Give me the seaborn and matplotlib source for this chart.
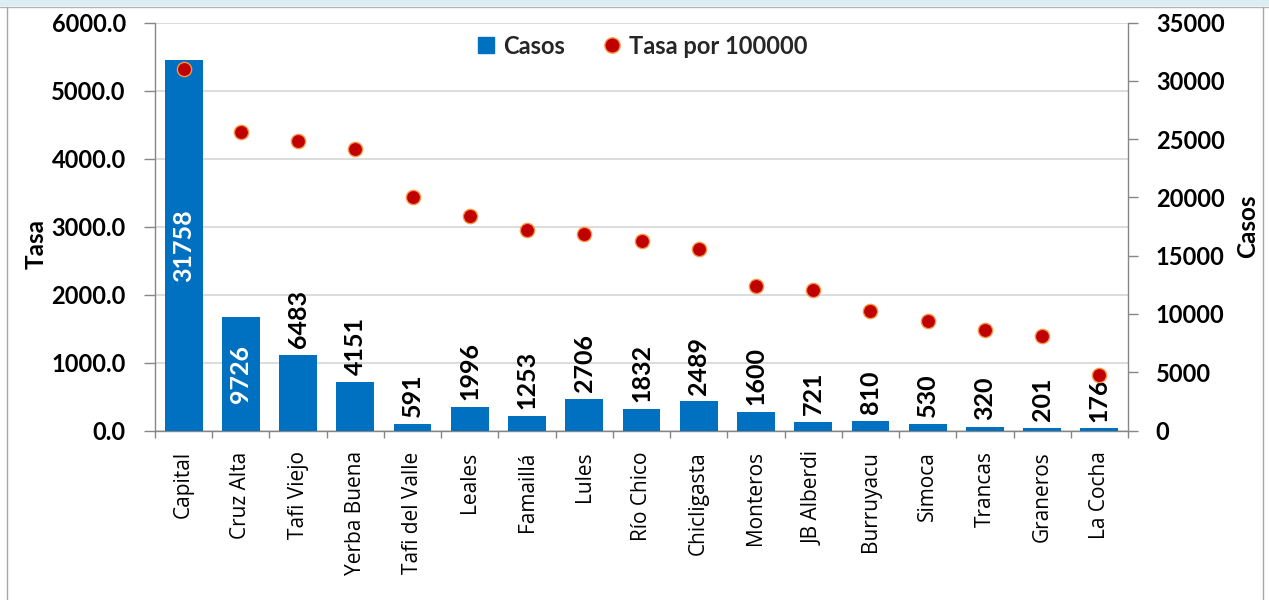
import numpy as np
import matplotlib
matplotlib.use("Agg")
import matplotlib.pyplot as plt
import seaborn as sns
from matplotlib.lines import Line2D
from matplotlib.patches import Rectangle

# datos por departamento
departamentos = ["Capital", "Cruz Alta", "Tafi Viejo", "Yerba Buena", "Tafi del Valle",
                 "Leales", "Famaillá", "Lules", "Río Chico", "Chicligasta", "Monteros",
                 "JB Alberdi", "Burruyacu", "Simoca", "Trancas", "Graneros", "La Cocha"]
casos = [31758, 9726, 6483, 4151, 591, 1996, 1253, 2706, 1832, 2489, 1600,
         721, 810, 530, 320, 201, 176]
tasa = [5310, 4392, 4253, 4141, 3428, 3148, 2942, 2883, 2790, 2672, 2127,
        2072, 1763, 1606, 1478, 1385, 811]

azul = "#0070C0"
rojo = "#C00000"
borde_rojo = "#F79646"
gris = "#868686"

sns.set_theme(style="white")
plt.rcParams["font.family"] = ["Lato", "DejaVu Sans"]

fig = plt.figure(figsize=(12.69, 6.0), dpi=100)
ax = fig.add_axes([155 / 1269, 1 - 430.5 / 600, 973 / 1269, 408 / 600])
ax2 = ax.twinx()   # barras (Casos)
ax3 = ax.twinx()   # puntos (Tasa), encima de las barras

pos = np.arange(len(departamentos))

sns.barplot(x=pos, y=casos, ax=ax2, color=azul, saturation=1, width=0.66,
            native_scale=True, orient="x", errorbar=None, linewidth=0)
sns.scatterplot(x=pos, y=tasa, ax=ax3, s=105, color=rojo, edgecolor=borde_rojo,
                linewidth=1, legend=False, zorder=3)

# etiquetas de las barras
for i, v in enumerate(casos):
    if v > 8000:
        ax2.text(i, v / 2, str(v), rotation=90, ha="center", va="center",
                 color="white", fontsize=18, fontweight="bold")
    else:
        ax2.annotate(str(v), (i, v), xytext=(0, 5), textcoords="offset points",
                     rotation=90, ha="center", va="bottom", color="black",
                     fontsize=18, fontweight="bold")

# ejes
ax.set_xlim(-0.5, len(departamentos) - 0.5)
ax.set_ylim(0, 6000)
ax3.set_ylim(0, 6000)
ax2.set_ylim(0, 35000)

ax.set_yticks(np.arange(0, 6001, 1000))
ax.set_yticklabels([f"{t:.1f}" for t in np.arange(0, 6001, 1000)])
ax2.set_yticks(np.arange(0, 35001, 5000))
ax2.set_yticklabels([str(t) for t in np.arange(0, 35001, 5000)])

ax.set_xticks(pos)
ax.set_xticklabels(departamentos, rotation=90, family=["Open Sans", "DejaVu Sans"],
                   fontsize=15, color="black")
ax.set_xticks(np.arange(-0.5, len(departamentos), 1), minor=True)
ax.tick_params(axis="x", which="major", length=0, pad=15, bottom=True)
ax.tick_params(axis="x", which="minor", length=5, width=1, color=gris, bottom=True)

ax.tick_params(axis="y", left=True, length=8, width=1, color=gris, pad=13,
               labelsize=17, labelcolor="black")
ax2.tick_params(axis="y", right=True, length=7, width=1, color=gris, pad=13,
                labelsize=17, labelcolor="black")
for lab in ax.get_yticklabels() + ax2.get_yticklabels():
    lab.set_fontweight("bold")

ax.yaxis.grid(True, color="#D9D9D9", linewidth=1.3)
ax.set_axisbelow(True)

ax3.yaxis.set_visible(False)
for s in ax3.spines.values():
    s.set_visible(False)
for s in ["top", "right"]:
    ax.spines[s].set_visible(False)
for s in ["top", "left", "bottom"]:
    ax2.spines[s].set_visible(False)
for s in [ax.spines["left"], ax.spines["bottom"], ax2.spines["right"]]:
    s.set_color(gris)
    s.set_linewidth(1)

ax.set_ylabel("Tasa", fontsize=17.5, fontweight="bold", color="black")
ax.yaxis.set_label_coords(-0.1106, 0.456)
ax2.set_ylabel("Casos", fontsize=17.5, fontweight="bold", color="black")
ax2.yaxis.set_label_coords(1.1107, 0.5)

# leyenda
handles = [
    Line2D([], [], marker="s", linestyle="none", markersize=11,
           markerfacecolor=azul, markeredgecolor=azul, label="Casos"),
    Line2D([], [], marker="o", linestyle="none", markersize=11,
           markerfacecolor=rojo, markeredgecolor=borde_rojo, label="Tasa por 100000"),
]
fig.legend(handles=handles, loc="center", bbox_to_anchor=(642 / 1269, 1 - 46 / 600),
           ncol=2, frameon=False, prop=dict(weight="bold", size=17),
           handlelength=0.8, handletextpad=0.3, columnspacing=1.6)

# marco de la figura
fig.patches.append(Rectangle((0, 1 - 6 / 600), 1, 6 / 600, transform=fig.transFigure,
                             facecolor="#DCEEF4", edgecolor="none"))
fig.lines.append(Line2D([0, 1], [1 - 6.5 / 600] * 2, transform=fig.transFigure,
                        color="#B4B4B4", linewidth=1))
for xf in [7 / 1269, 1263 / 1269]:
    fig.lines.append(Line2D([xf, xf], [0, 1 - 6.5 / 600], transform=fig.transFigure,
                            color="#A6A6A6", linewidth=1))

fig.savefig("out.png", dpi=100)
